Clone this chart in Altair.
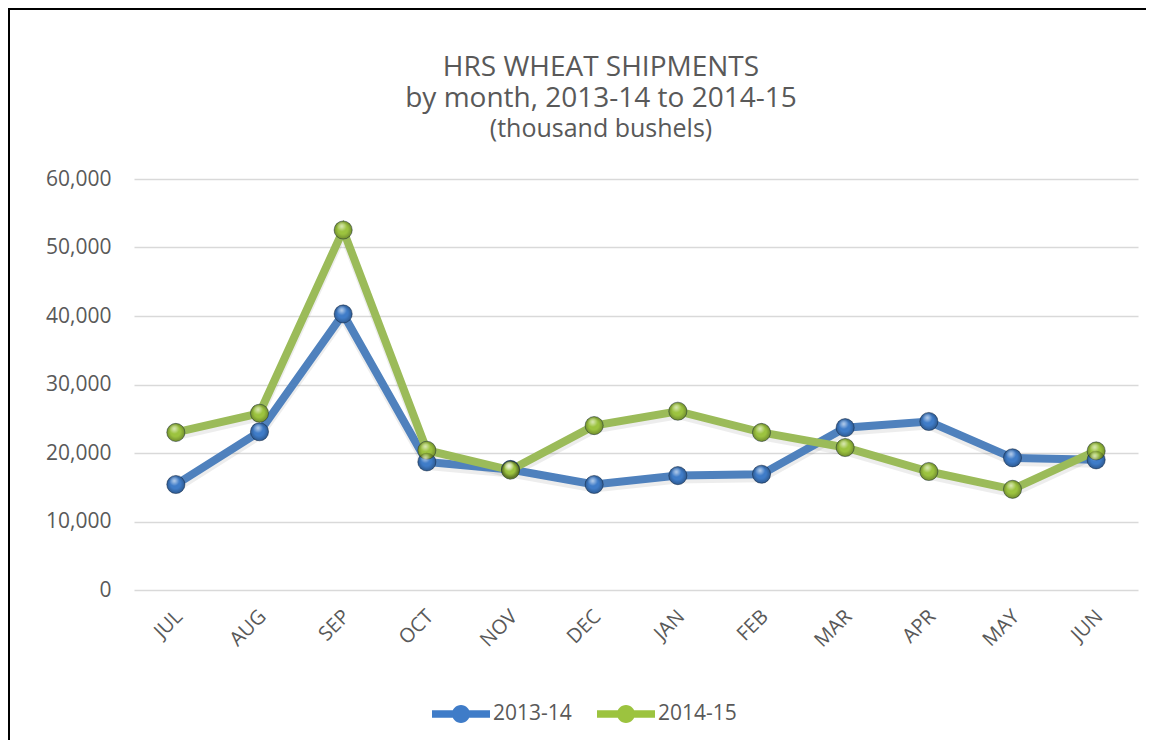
import altair as alt
import pandas as pd

months = ["JUL", "AUG", "SEP", "OCT", "NOV", "DEC", "JAN", "FEB", "MAR", "APR", "MAY", "JUN"]
series_names = ["2013-14", "2014-15"]
s2013_14 = [15400, 23100, 40300, 18700, 17600, 15400, 16700, 16900, 23700, 24600, 19300, 19000]
s2014_15 = [23000, 25800, 52550, 20400, 17500, 24000, 26100, 23000, 20800, 17300, 14700, 20300]
y_ticks = [0, 10000, 20000, 30000, 40000, 50000, 60000]
colors = ["#4f81bd", "#9bbb59"]
marker_colors = ["#3f7cc8", "#9cc33f"]

rows = []
for m, v in zip(months, s2013_14):
    rows.append({"month": m, "series": series_names[0], "value": v})
for m, v in zip(months, s2014_15):
    rows.append({"month": m, "series": series_names[1], "value": v})
df = pd.DataFrame(rows)

FONT = "Open Sans"
GREY = "#595959"

x_enc = alt.X("month:N", sort=months,
              axis=alt.Axis(labelAngle=-45, labelFontSize=20, labelColor=GREY, labelFont=FONT,
                            labelPadding=16, labelOffset=-4, ticks=False, domain=False,
                            title=None, grid=False))
y_enc = alt.Y("value:Q", scale=alt.Scale(domain=[0, 60000]),
              axis=alt.Axis(values=y_ticks, format=",.0f", labelFontSize=21, labelColor=GREY,
                            labelFont=FONT, labelPadding=23, ticks=False, domain=False,
                            title=None, grid=True, gridColor="#d9d9d9", gridWidth=1.5))

legend_path = ("M-1,-0.13L1,-0.13L1,0.13L-1,0.13Z "
               "M-0.31,0A0.31,0.31 0 1,1 0.31,0A0.31,0.31 0 1,1 -0.31,0Z")

legend = alt.Legend(title=None, orient="none", direction="horizontal",
                    legendX=298, legendY=506, symbolType=legend_path,
                    symbolSize=3364, symbolStrokeWidth=0,
                    labelFont=FONT, labelFontSize=21, labelColor=GREY,
                    labelOffset=3, columnPadding=25, padding=0, symbolOpacity=1)

base = alt.Chart(df)

shadow = base.mark_line(color="#000000", opacity=0.07, strokeWidth=8, yOffset=4).encode(
    x=x_enc, y=y_enc, detail="series:N")

lines = base.mark_line(strokeWidth=8).encode(
    x=x_enc, y=y_enc,
    stroke=alt.Stroke("series:N", scale=alt.Scale(domain=series_names, range=colors),
                      legend=legend))

points = base.mark_point(shape="circle", filled=True, size=330, opacity=1,
                         stroke="#10223a", strokeOpacity=0.45, strokeWidth=1).encode(
    x=x_enc, y=y_enc,
    fill=alt.Fill("series:N", scale=alt.Scale(domain=series_names, range=marker_colors),
                  legend=legend))

edge = base.mark_point(
    shape="circle", filled=True, size=330, strokeWidth=0,
    fill=alt.RadialGradient(gradient="radial",
                            stops=[alt.GradientStop(color="rgba(0,0,0,0)", offset=0),
                                   alt.GradientStop(color="rgba(0,0,0,0)", offset=0.55),
                                   alt.GradientStop(color="rgba(0,0,0,0.4)", offset=1)],
                            x1=0.45, y1=0.4, r1=0, x2=0.5, y2=0.5, r2=0.5)).encode(
    x=x_enc, y=y_enc)

shine = base.mark_point(
    shape="circle", filled=True, size=330, strokeWidth=0,
    fill=alt.RadialGradient(gradient="radial",
                            stops=[alt.GradientStop(color="rgba(255,255,255,0.9)", offset=0),
                                   alt.GradientStop(color="rgba(255,255,255,0)", offset=1)],
                            x1=0.42, y1=0.3, r1=0, x2=0.42, y2=0.3, r2=0.28)).encode(
    x=x_enc, y=y_enc)

border = alt.Chart(pd.DataFrame({"k": [0]})).mark_rect(
    fill=None, stroke="#000000", strokeWidth=2).encode(
    x=alt.value(-125), x2=alt.value(1040), y=alt.value(-170), y2=alt.value(600))

chart = alt.layer(border, shadow, lines, points, edge, shine).properties(
    width=1004, height=411,
    autosize=alt.AutoSizeParams(type="none"),
    padding={"left": 126, "top": 171, "right": 8, "bottom": 150},
    title=alt.TitleParams(
        text=["HRS WHEAT SHIPMENTS", "by month, 2013-14 to 2014-15"],
        subtitle="(thousand bushels)",
        font=FONT, subtitleFont=FONT, fontSize=28, subtitleFontSize=25,
        fontWeight="normal", color=GREY, subtitleColor=GREY,
        lineHeight=31, subtitlePadding=4,
        anchor="middle", frame="group", dx=-35, offset=-134),
).configure(background="white").configure_view(strokeWidth=0, stroke="transparent")

chart.save("out.html", embed_options={"renderer": "svg", "actions": False})
